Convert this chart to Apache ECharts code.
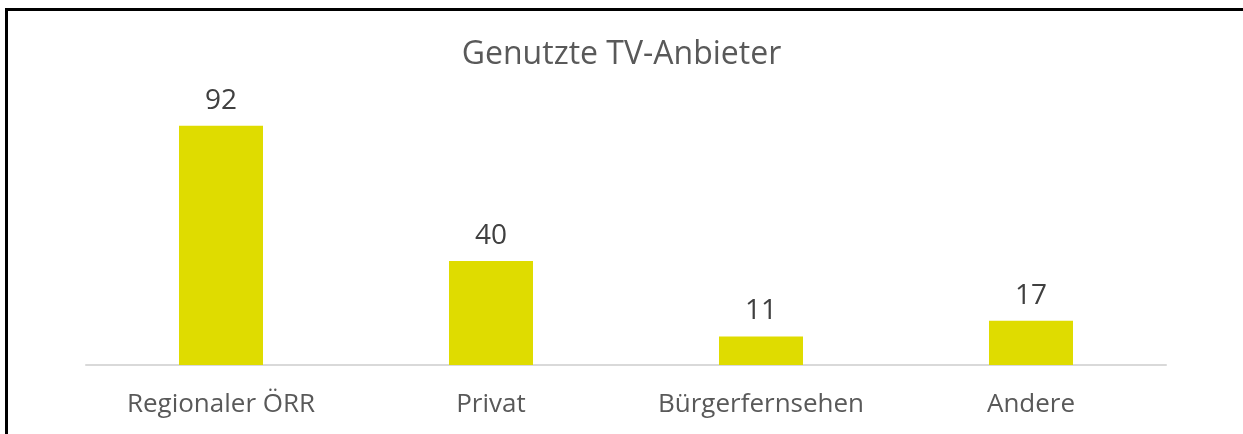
<!DOCTYPE html>
<html lang="de">
<head>
    <meta charset="UTF-8">
    <title>Genutzte TV-Anbieter</title>
    <style>
        html, body { margin: 0; padding: 0; background: #fff; }
        /* Rahmen oben und links wie im Original */
        #frame {
            position: absolute;
            left: 5px; top: 8px;
            width: 1238px; height: 426px;
            border-top: 3px solid #000;
            border-left: 3px solid #000;
            box-sizing: border-box;
        }
        #chart { position: absolute; left: 0; top: 0; width: 1243px; height: 434px; }
    </style>
    <script src="https://cdn.jsdelivr.net/npm/echarts@6/dist/echarts.min.js"></script>
</head>
<body>
<div id="frame"></div>
<div id="chart"></div>
<script>
    var kategorien = ['Regionaler ÖRR', 'Privat', 'Bürgerfernsehen', 'Andere'];
    var werte = [92, 40, 11, 17];

    var chart = echarts.init(document.getElementById('chart'));
    var schrift = '"Open Sans", sans-serif';

    var option = {
        animation: false,
        title: {
            text: 'Genutzte TV-Anbieter',
            left: 'center',
            top: 34,
            textStyle: { fontFamily: schrift, fontSize: 32, fontWeight: 'normal', color: '#595959' }
        },
        grid: { left: 86, right: 77, top: 105, bottom: 69 },
        xAxis: {
            type: 'category',
            data: kategorien,
            axisLine: { lineStyle: { color: '#d9d9d9', width: 2 } },
            axisTick: { show: false },
            axisLabel: { fontFamily: schrift, fontSize: 26, color: '#595959', margin: 27 }
        },
        yAxis: {
            type: 'value',
            min: 0,
            max: 100,
            show: false,
            splitLine: { show: false }
        },
        series: [{
            type: 'bar',
            data: werte,
            barWidth: 84,
            itemStyle: { color: '#dfdc00' },
            label: {
                show: true,
                position: 'top',
                distance: 11,
                fontFamily: schrift,
                fontSize: 28,
                color: '#404040'
            }
        }]
    };
    chart.setOption(option);
</script>
</body>
</html>
